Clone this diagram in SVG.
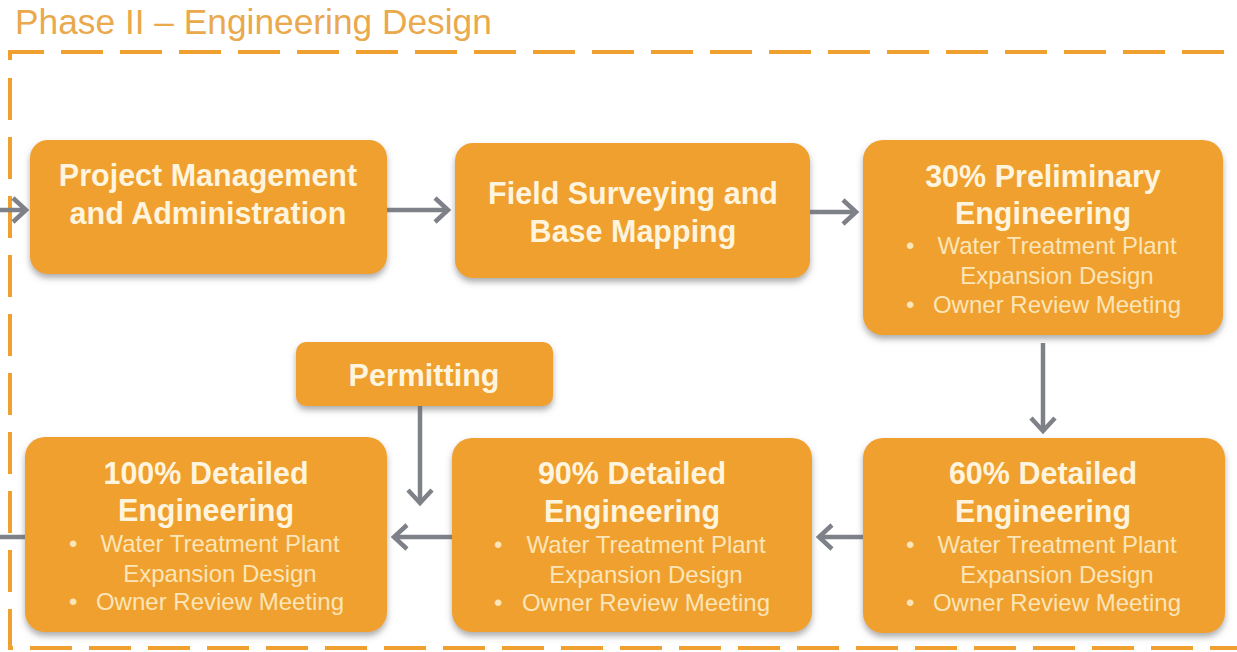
<svg xmlns="http://www.w3.org/2000/svg" width="1237" height="652" viewBox="0 0 1237 652">
<defs>
<style>
.box{fill:#EFA02E;filter:url(#sh);}
.t{font-family:"Liberation Sans",Arial,sans-serif;font-weight:bold;font-size:30.5px;fill:#FFF4DE;text-anchor:middle;}
.b{font-family:"Liberation Sans",Arial,sans-serif;font-size:24px;fill:#FCE5B8;text-anchor:middle;}
.bl{font-family:"Liberation Sans",Arial,sans-serif;font-size:24px;fill:#FCE5B8;}
.c{stroke:#7E8188;stroke-width:4.5;fill:none;marker-end:url(#ah);}
.dash{stroke:#EFA02E;stroke-width:4;fill:none;stroke-dasharray:42 17;}
</style>
<filter id="sh" x="-10%" y="-10%" width="120%" height="130%">
<feDropShadow dx="0" dy="4" stdDeviation="3" flood-color="#6b6b6b" flood-opacity="0.55"/>
</filter>
<marker id="ah" markerUnits="userSpaceOnUse" markerWidth="30" markerHeight="30" viewBox="-20 -15 24 30" refX="0" refY="0" orient="auto" overflow="visible">
<path d="M-13,-12 L0,0 L-13,12" fill="none" stroke="#7E8188" stroke-width="4.5" stroke-linejoin="miter"/>
</marker>
</defs>
<text x="15" y="34" font-family="'Liberation Sans',Arial,sans-serif" font-size="35.3" fill="#E9A94C">Phase II – Engineering Design</text>
<g id="border">
<path class="dash" d="M10,60 V52 H1226"/>
<path class="dash" d="M10,78 V648 H1237"/>
</g>
<g id="connectors">
<path class="c" d="M0,210 H26"/>
<path class="c" d="M387,210 H448"/>
<path class="c" d="M810,212 H856"/>
<path class="c" d="M1043,343 V431"/>
<path class="c" d="M863,537 H819"/>
<path class="c" d="M452,537 H394"/>
<path class="c" d="M420,406 V503"/>
<path d="M25,537 H0" stroke="#7E8188" stroke-width="4.5" fill="none"/>
</g>
<g id="pm">
<rect class="box" x="30" y="140" width="357" height="134" rx="18"/>
<text class="t" x="208" y="186">Project Management</text>
<text class="t" x="208" y="224">and Administration</text>
</g>
<g id="fs">
<rect class="box" x="455" y="143" width="355" height="135" rx="18"/>
<text class="t" x="633" y="204">Field Surveying and</text>
<text class="t" x="633" y="242">Base Mapping</text>
</g>
<g id="p30">
<rect class="box" x="863" y="140" width="360" height="195" rx="20"/>
<text class="t" x="1043" y="187">30% Preliminary</text>
<text class="t" x="1043" y="224">Engineering</text>
<text class="bl" x="906" y="254">•</text>
<text class="b" x="1057" y="254">Water Treatment Plant</text>
<text class="b" x="1057" y="284">Expansion Design</text>
<text class="bl" x="906" y="313">•</text>
<text class="b" x="1057" y="313">Owner Review Meeting</text>
</g>
<g id="perm">
<rect class="box" x="296" y="342" width="257" height="64" rx="10"/>
<text class="t" x="424" y="386">Permitting</text>
</g>
<g id="d100">
<rect class="box" x="25" y="437" width="362" height="195" rx="20"/>
<text class="t" x="206" y="484">100% Detailed</text>
<text class="t" x="206" y="521">Engineering</text>
<text class="bl" x="69" y="552">•</text>
<text class="b" x="220" y="552">Water Treatment Plant</text>
<text class="b" x="220" y="582">Expansion Design</text>
<text class="bl" x="69" y="610">•</text>
<text class="b" x="220" y="610">Owner Review Meeting</text>
</g>
<g id="d90">
<rect class="box" x="452" y="438" width="360" height="194" rx="20"/>
<text class="t" x="632" y="484">90% Detailed</text>
<text class="t" x="632" y="522">Engineering</text>
<text class="bl" x="494" y="553">•</text>
<text class="b" x="646" y="553">Water Treatment Plant</text>
<text class="b" x="646" y="583">Expansion Design</text>
<text class="bl" x="494" y="611">•</text>
<text class="b" x="646" y="611">Owner Review Meeting</text>
</g>
<g id="d60">
<rect class="box" x="863" y="438" width="362" height="195" rx="20"/>
<text class="t" x="1043" y="484">60% Detailed</text>
<text class="t" x="1043" y="522">Engineering</text>
<text class="bl" x="906" y="553">•</text>
<text class="b" x="1057" y="553">Water Treatment Plant</text>
<text class="b" x="1057" y="583">Expansion Design</text>
<text class="bl" x="906" y="611">•</text>
<text class="b" x="1057" y="611">Owner Review Meeting</text>
</g>
</svg>
